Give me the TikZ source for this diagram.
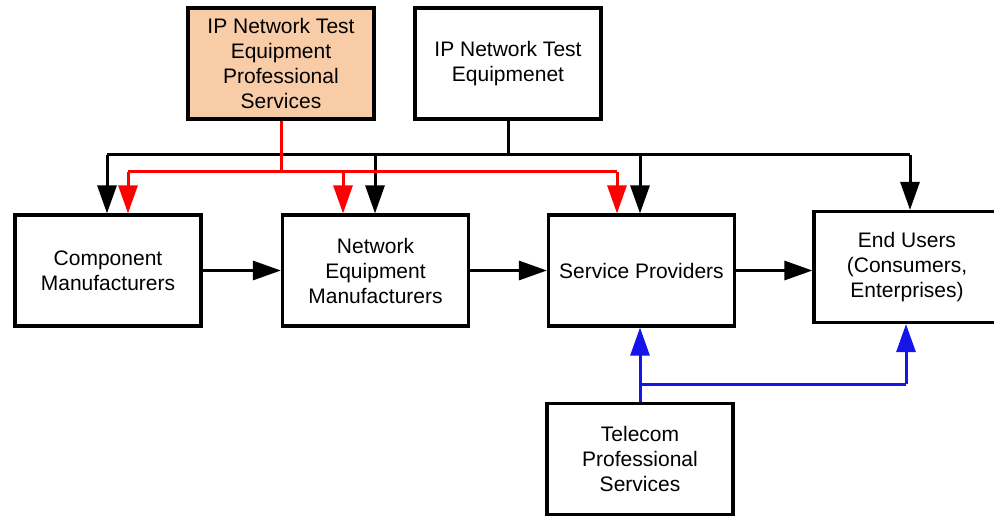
\documentclass[tikz,border=0pt]{standalone}
\usepackage{fontspec}
\setmainfont{Liberation Sans}
\usetikzlibrary{arrows.meta,calc}
\definecolor{peach}{RGB}{249,204,168}
\definecolor{myred}{RGB}{255,0,0}
\definecolor{myblue}{RGB}{20,20,235}
\begin{document}
\begin{tikzpicture}[x=1pt,y=-1pt,
  box/.style={draw=black,line width=3.2pt,minimum width=186pt,minimum height=111pt,
    align=center,inner sep=0pt,font=\fontsize{21}{25}\selectfont},
  wire/.style={line width=3pt},
  conn/.style={line width=3pt,-{Triangle[width=19pt,length=28pt]}},
  rwire/.style={wire,draw=myred},
  rconn/.style={conn,draw=myred,fill=myred},
  bwire/.style={wire,draw=myblue},
  bconn/.style={conn,draw=myblue,fill=myblue}]
\useasboundingbox (0,0) rectangle (994,516);
\clip (0,0) rectangle (994,516);
\node[box,fill=peach] (ps) at (281,63.5) {IP Network Test\\Equipment\\Professional\\Services};
\node[box] (ipe) at (508,63.5) {IP Network Test\\Equipmenet};
\node[box] (cm) at (108,270.5) {Component\\Manufacturers};
\node[box] (nem) at (375.5,270.5) {Network\\Equipment\\Manufacturers};
\node[box] (sp) at (641.5,270.5) {Service Providers};
\node[box] (eu) at (907,267) {End Users\\(Consumers,\\Enterprises)};
\node[box] (tps) at (640,459) {Telecom\\Professional\\Services};
% black bus
\coordinate (bj) at (508,155);
\coordinate (b1) at (107,155);
\coordinate (b2) at (375,155);
\coordinate (b3) at (640,155);
\coordinate (b4) at (910,155);
\draw[wire] (ipe.south) -- (bj);
\draw[wire] (b1) -- (b4);
\draw[conn] (b1) -- (b1 |- cm.north);
\draw[conn] (b2) -- (b2 |- nem.north);
\draw[conn] (b3) -- (b3 |- sp.north);
\draw[conn] (b4) -- (b4 |- eu.north);
% red bus
\coordinate (rj) at (281,172);
\coordinate (r1) at (128,172);
\coordinate (r2) at (343,172);
\coordinate (r3) at (617,172);
\draw[rwire] (ps.south) -- (rj);
\draw[rwire] (r1) -- (r3);
\draw[rconn] (r1) -- (r1 |- cm.north);
\draw[rconn] (r2) -- (r2 |- nem.north);
\draw[rconn] (r3) -- (r3 |- sp.north);
% horizontal flow
\draw[conn] (cm.east) -- (nem.west);
\draw[conn] (nem.east) -- (sp.west);
\draw[conn] (sp.east) -- (sp.east -| eu.west);
% blue
\coordinate (tj) at (640,384);
\coordinate (tr) at (906,384);
\draw[bwire] (tps.north) -- (tj);
\draw[bconn] (tj) -- (tj |- sp.south);
\draw[bwire] (tj) -- (tr);
\draw[bconn] (tr) -- (tr |- eu.south);
\end{tikzpicture}
\end{document}
